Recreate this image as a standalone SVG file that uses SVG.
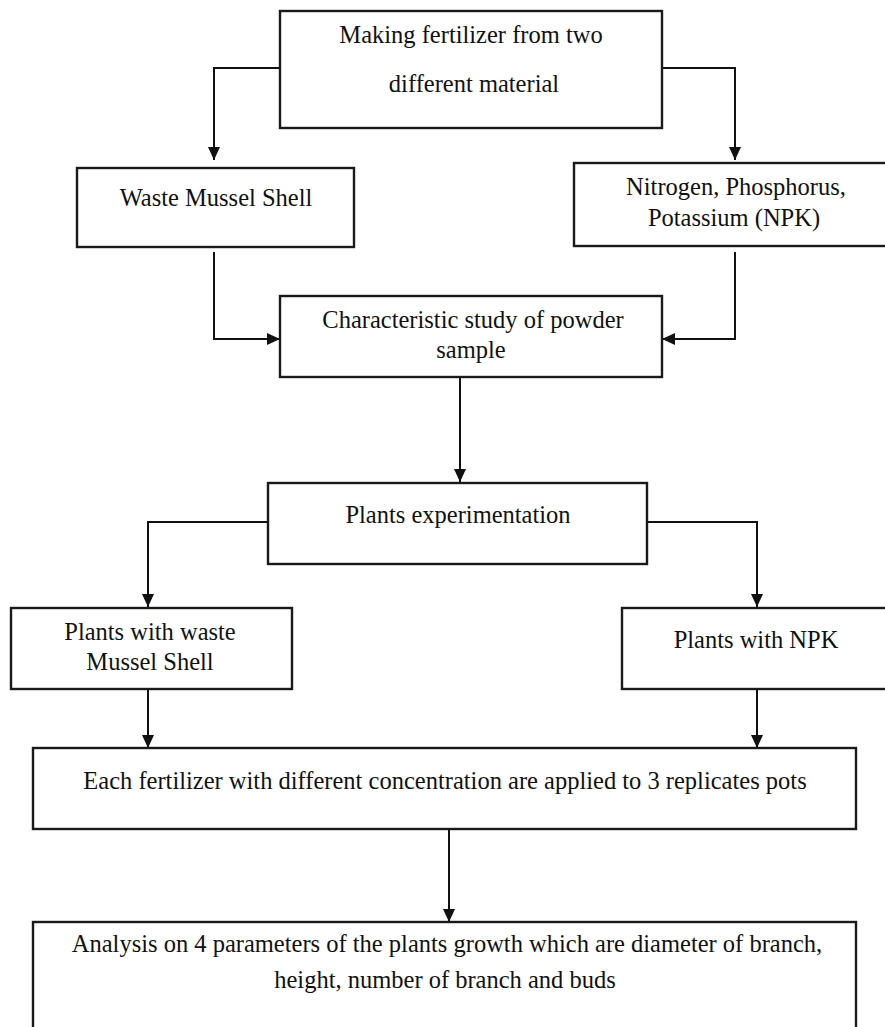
<svg xmlns="http://www.w3.org/2000/svg" width="885" height="1027" viewBox="0 0 885 1027">
<style>
.box{fill:#fff;stroke:#1a1a1a;stroke-width:2.4}
.t{font-family:"Liberation Serif","Times New Roman",serif;font-size:24.5px;fill:#111;text-anchor:middle}
.c{fill:none;stroke:#111;stroke-width:2}
</style>
<defs>
<marker id="ah" markerUnits="userSpaceOnUse" markerWidth="14" markerHeight="14" refX="13" refY="6" orient="auto">
<path d="M0,0 L13,6 L0,12 Z" fill="#111"/>
</marker>
</defs>
<rect width="885" height="1027" fill="#fff"/>
<g id="connectors">
<polyline class="c" points="280,68 214,68 214,160" marker-end="url(#ah)"/>
<polyline class="c" points="662,68 735,68 735,160" marker-end="url(#ah)"/>
<polyline class="c" points="214,252 214,339 280,339" marker-end="url(#ah)"/>
<polyline class="c" points="735,252 735,339 662,339" marker-end="url(#ah)"/>
<polyline class="c" points="460,377 460,482" marker-end="url(#ah)"/>
<polyline class="c" points="268,522 148,522 148,607" marker-end="url(#ah)"/>
<polyline class="c" points="647,522 757,522 757,607" marker-end="url(#ah)"/>
<polyline class="c" points="148,689 148,748" marker-end="url(#ah)"/>
<polyline class="c" points="757,689 757,748" marker-end="url(#ah)"/>
<polyline class="c" points="449,829 449,922" marker-end="url(#ah)"/>
</g>
<g id="n1">
<rect class="box" x="280" y="11" width="382" height="117"/>
<text class="t" x="471" y="43">Making fertilizer from two</text>
<text class="t" x="474" y="92">different material</text>
</g>
<g id="n2">
<rect class="box" x="77" y="168" width="277" height="79"/>
<text class="t" x="216" y="206">Waste Mussel Shell</text>
</g>
<g id="n3">
<rect class="box" x="574" y="163" width="321" height="83"/>
<text class="t" x="736" y="195">Nitrogen, Phosphorus,</text>
<text class="t" x="734" y="226">Potassium (NPK)</text>
</g>
<g id="n4">
<rect class="box" x="280" y="296" width="382" height="81"/>
<text class="t" x="473" y="328">Characteristic study of powder</text>
<text class="t" x="471" y="358">sample</text>
</g>
<g id="n5">
<rect class="box" x="268" y="483" width="379" height="81"/>
<text class="t" x="458" y="523">Plants experimentation</text>
</g>
<g id="n6">
<rect class="box" x="11" y="608" width="281" height="81"/>
<text class="t" x="150" y="640">Plants with waste</text>
<text class="t" x="150" y="670">Mussel Shell</text>
</g>
<g id="n7">
<rect class="box" x="622" y="608" width="273" height="81"/>
<text class="t" x="756" y="648">Plants with NPK</text>
</g>
<g id="n8">
<rect class="box" x="33" y="748" width="823" height="81"/>
<text class="t" x="445" y="789">Each fertilizer with different concentration are applied to 3 replicates pots</text>
</g>
<g id="n9">
<rect class="box" x="33" y="922" width="823" height="120"/>
<text class="t" x="447" y="952">Analysis on 4 parameters of the plants growth which are diameter of branch,</text>
<text class="t" x="445" y="988">height, number of branch and buds</text>
</g>
</svg>
